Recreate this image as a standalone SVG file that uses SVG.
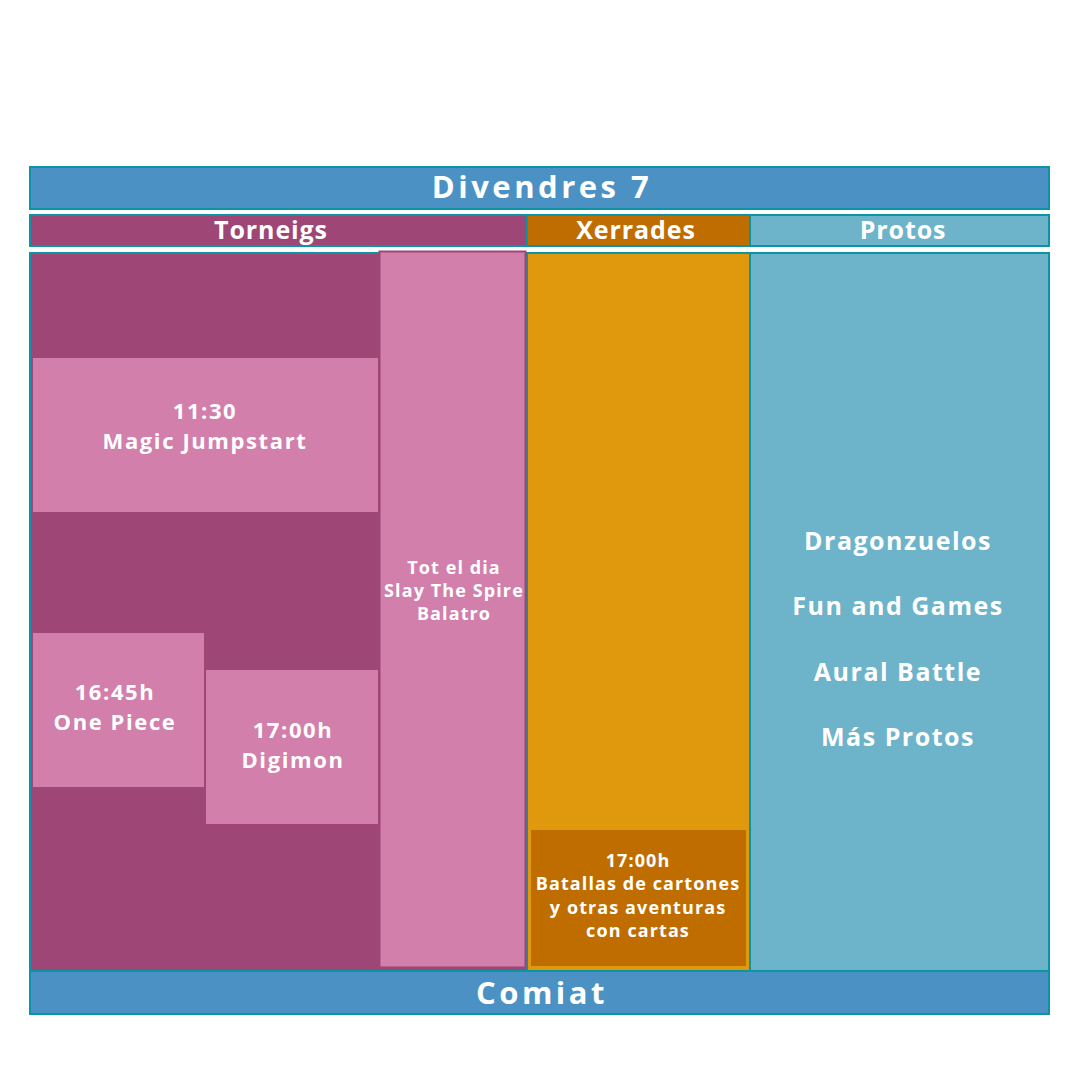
<svg xmlns="http://www.w3.org/2000/svg" width="1080" height="1080" viewBox="0 0 1080 1080">
<style>
.bar{fill:#4b91c3;stroke:#0b93a6;stroke-width:2}
.tor{fill:#9e4675}
.pink{fill:#d27fac}
.xer{fill:#e0990d}
.xerd{fill:#c06d00}
.pro{fill:#6db3ca}
.edge{stroke:#0b93a6;stroke-width:2}
text{font-family:"Open Sans","DejaVu Sans",sans-serif;font-weight:700;fill:#ffffff;text-anchor:middle}
.big{font-size:31px;letter-spacing:3.5px}
.hd{font-size:25px;letter-spacing:0.9px}
.ev{font-size:22px;letter-spacing:1.6px}
.sm{font-size:18px;letter-spacing:1.1px}
.pr{font-size:25px;letter-spacing:1.5px}
</style>
<rect width="1080" height="1080" fill="#ffffff"/>
<g id="title">
<rect class="bar" x="30" y="167" width="1019" height="42"/>
<text class="big" x="542" y="198">Divendres 7</text>
</g>
<g id="head-torneigs">
<rect class="tor edge" x="30" y="215" width="497" height="31"/>
<text class="hd" x="271" y="239">Torneigs</text>
</g>
<g id="head-xerrades">
<rect class="xerd edge" x="527" y="215" width="223" height="31"/>
<text class="hd" x="636" y="239">Xerrades</text>
</g>
<g id="head-protos">
<rect class="pro edge" x="750" y="215" width="299" height="31"/>
<text class="hd" x="903" y="239">Protos</text>
</g>
<g id="col-torneigs">
<rect class="tor edge" x="30" y="253" width="497" height="718"/>
</g>
<g id="col-xerrades">
<rect class="xer edge" x="527" y="253" width="223" height="718"/>
</g>
<g id="col-protos">
<rect class="pro edge" x="750" y="253" width="299" height="718"/>
<text class="pr" x="898" y="550">Dragonzuelos</text>
<text class="pr" x="898" y="615">Fun and Games</text>
<text class="pr" x="898" y="681">Aural Battle</text>
<text class="pr" x="898" y="746">Más Protos</text>
</g>
<g id="magic">
<rect class="pink" x="33" y="358" width="345" height="154"/>
<text class="ev" x="205" y="419">11:30</text>
<text class="ev" x="205" y="449">Magic Jumpstart</text>
</g>
<g id="totdia">
<rect class="pink" x="379.5" y="251.5" width="146" height="716" stroke="#9e4675" stroke-width="2"/>
<text class="sm" x="454" y="574">Tot el dia</text>
<text class="sm" x="454" y="597">Slay The Spire</text>
<text class="sm" x="454" y="620">Balatro</text>
</g>
<g id="onepiece">
<rect class="pink" x="33" y="633" width="171" height="154"/>
<text class="ev" x="115" y="700">16:45h</text>
<text class="ev" x="115" y="730">One Piece</text>
</g>
<g id="digimon">
<rect class="pink" x="206" y="670" width="172" height="154"/>
<text class="ev" x="293" y="738">17:00h</text>
<text class="ev" x="293" y="768">Digimon</text>
</g>
<g id="batallas">
<rect class="xerd" x="530" y="829" width="217" height="138" stroke="#e0990d" stroke-width="2"/>
<text class="sm" x="638" y="867">17:00h</text>
<text class="sm" x="638" y="890">Batallas de cartones</text>
<text class="sm" x="638" y="914">y otras aventuras</text>
<text class="sm" x="638" y="937">con cartas</text>
</g>
<g id="comiat">
<rect class="bar" x="30" y="971" width="1019" height="43"/>
<text class="big" x="542" y="1004">Comiat</text>
</g>
<g id="connectors"/>
</svg>
